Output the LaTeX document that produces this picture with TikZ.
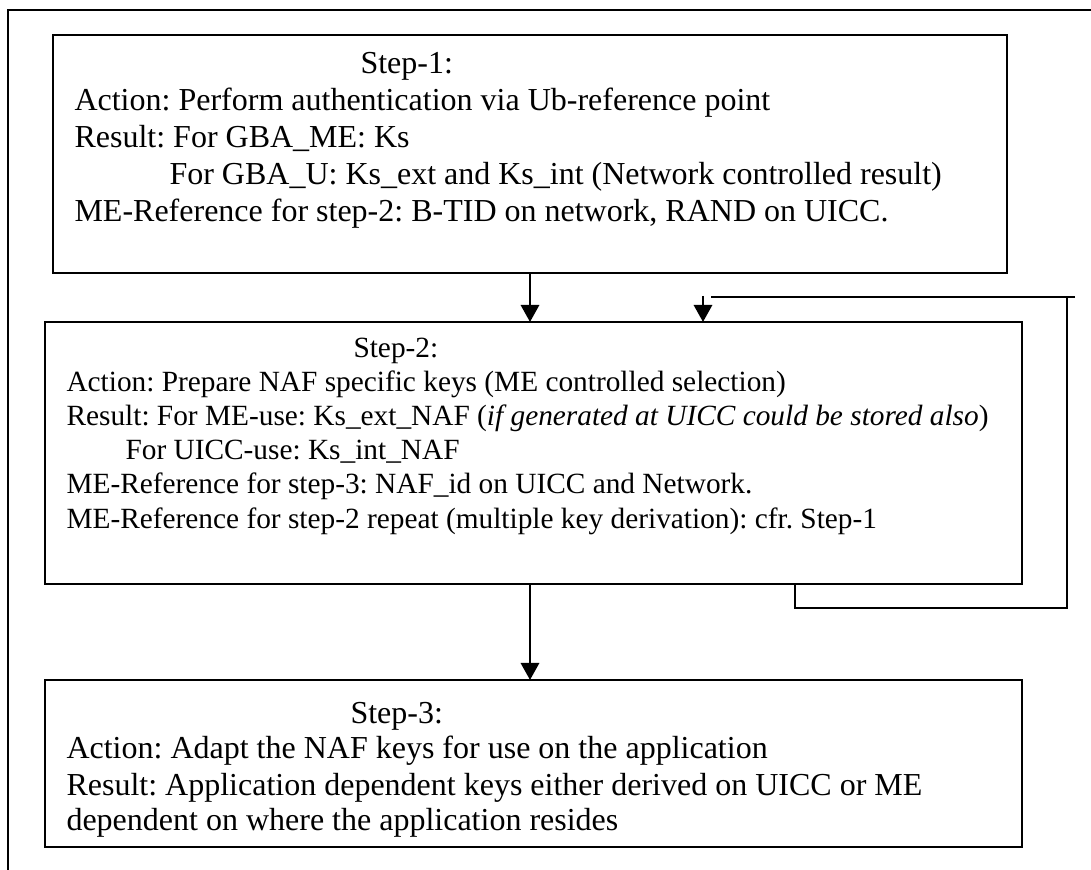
\documentclass[tikz,border=0pt]{standalone}
\usepackage{fontspec}
\setmainfont{Liberation Serif}
\usetikzlibrary{arrows.meta}
\frenchspacing
\tikzset{
  frame/.style={line width=0.75pt},
  stepbox/.style={draw, line width=0.6pt, rectangle, inner sep=0pt, outer sep=0pt, anchor=north west},
  txt/.style={anchor=base west, inner sep=0pt, font=\fontsize{12pt}{14pt}\selectfont},
  txts/.style={anchor=base west, inner sep=0pt, font=\fontsize{11pt}{13pt}\selectfont},
  arr/.style={line width=1.1pt, -{Triangle[length=6.4pt,width=6.8pt]}},
  fb/.style={line width=0.75pt}
}
\begin{document}
\begin{tikzpicture}[x=0.375pt,y=-0.375pt]
\useasboundingbox (0,0) rectangle (1091,870);
% outer frame (top and left edges)
\coordinate (fBL) at (8,870);
\coordinate (fTL) at (8,10.5);
\coordinate (fTR) at (1091,10.5);
\draw[frame] (fBL) -- (fTL) -- (fTR);

% boxes
\node[stepbox, minimum width=357.9pt, minimum height=89.25pt] (b1) at (52.7,35) {};
\node[stepbox, minimum width=366.4pt, minimum height=98.25pt] (b2) at (45,322) {};
\node[stepbox, minimum width=366.4pt, minimum height=62.6pt] (b3) at (45,680) {};

% box 1 text
\node[txt] (t1s) at (360,74) {Step-1:};
\node[txt] (t1a) at (74,111) {Action: Perform authentication via Ub-reference point};
\node[txt] (t1b) at (74,148) {Result: For GBA\_ME: Ks};
\node[txt] (t1c) at (169,185) {For GBA\_U: Ks\_ext and Ks\_int (Network controlled result)};
\node[txt] (t1d) at (74,222) {ME-Reference for step-2: B-TID on network, RAND on UICC.};

% box 2 text
\node[txts] (t2s) at (353,358) {Step-2:};
\node[txts] (t2a) at (66,392) {Action: Prepare NAF specific keys (ME controlled selection)};
\node[txts] (t2b) at (66,426) {Result: For ME-use: Ks\_ext\_NAF (\textit{if generated at UICC could be stored also})};
\node[txts] (t2c) at (125,460) {For UICC-use: Ks\_int\_NAF};
\node[txts] (t2d) at (66,494) {ME-Reference for step-3: NAF\_id on UICC and Network.};
\node[txts] (t2e) at (66,528) {ME-Reference for step-2 repeat (multiple key derivation): cfr. Step-1};

% box 3 text
\node[txt] (t3s) at (350,723) {Step-3:};
\node[txt] (t3a) at (66,759) {Action: Adapt the NAF keys for use on the application};
\node[txt] (t3b) at (66,795) {Result: Application dependent keys either derived on UICC or ME};
\node[txt] (t3c) at (66,830) {dependent on where the application resides};

% main arrows
\coordinate (xm) at (530,0);
\draw[arr] (b1.south -| xm) -- (b2.north -| xm);
\draw[arr] (b2.south -| xm) -- (b3.north -| xm);

% feedback loop
\coordinate (xl) at (795,0);
\coordinate (fb1) at (795,608);
\coordinate (fb2) at (1067,608);
\coordinate (fb3) at (1067,297);
\coordinate (fb4) at (1075,297);
\coordinate (fb5) at (711,297);
\coordinate (fbs) at (703,296);
\draw[fb] (b2.south -| xl) -- (fb1) -- (fb2) -- (fb3);
\draw[fb] (fb4) -- (fb5);
\draw[arr] (fbs) -- (b2.north -| fbs);
\end{tikzpicture}
\end{document}
